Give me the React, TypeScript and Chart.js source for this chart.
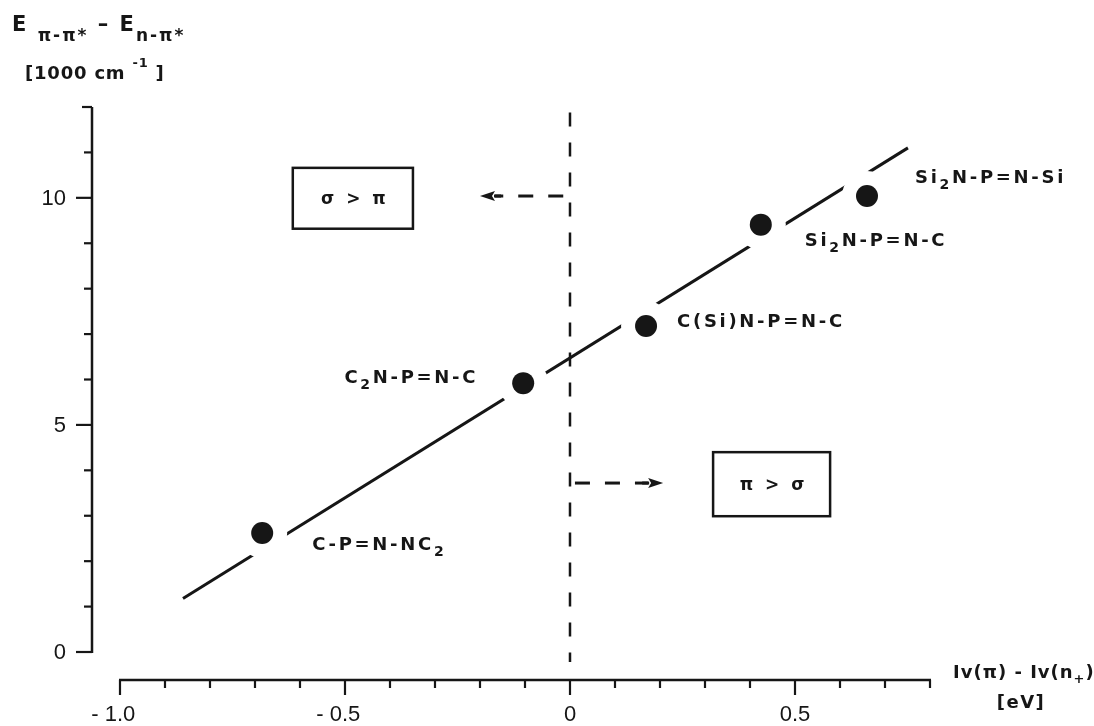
import { useEffect, useRef } from "react";
import { Chart, registerables } from "chart.js";

Chart.register(...registerables);

// ---------------- data ----------------
const compounds = ["C-P=N-NC_2", "C_2N-P=N-C", "C(Si)N-P=N-C", "Si_2N-P=N-C", "Si_2N-P=N-Si"];
const ivDifference = [-0.684, -0.104, 0.169, 0.424, 0.66];
const energyDifference = [2.62, 5.92, 7.18, 9.41, 10.04];
const fitLineX = [-0.86, 0.751];
const fitLineY = [1.18, 11.1];
const xTickValues = [-1.0, -0.5, 0, 0.5];
const xTickLabels = ["- 1.0", "- 0.5", "0", "0.5"];
const yTickValues = [0, 5, 10];
const yTickLabels = ["0", "5", "10"];
const xAxisRange = [-1.0, 0.8];
const yAxisRange = [0, 12];
const xMinorStep = 0.1;
const yMinorStep = 1;
const regionLabels = ["σ > π", "π > σ"];
const yTitleLines = ["E _{π-π*} – E_{n-π*}", "[1000 cm ^{-1} ]"];
const xTitleLines = ["Iv(π) - Iv(n_+)", "[eV]"];

// ---------------- layout (kept apart from data) ----------------
const INK = "#161616";
const LABEL_FONT = '"DejaVu Sans"';
const TICK_FONT = '"Liberation Sans"';
const labelPlacement = [
  { dx: 50, dy: 12, align: "left" },
  { dx: -45, dy: -5, align: "right" },
  { dx: 31, dy: -4, align: "left" },
  { dx: 44, dy: 17, align: "left" },
  { dx: 48, dy: -18, align: "left" },
];
// region boxes in data units: [x0, x1, yTop, yBottom]
const regionBoxes = [
  [-0.616, -0.349, 10.66, 9.32],
  [0.318, 0.578, 4.4, 2.99],
];
// dashed arrows in data units: [xStart, xTip, y]
const regionArrows = [
  [-0.015, -0.2, 10.04],
  [0.011, 0.207, 3.72],
];
const dividerX = 0;
const dividerSpan = [11.88, -0.22];

type Seg = { t: string; k: "n" | "sub" | "sup" };
function parseRich(s: string): Seg[] {
  const out: Seg[] = [];
  const re = /([_^])(\{([^}]*)\}|(.))/g;
  let last = 0;
  let m: RegExpExecArray | null;
  while ((m = re.exec(s))) {
    if (m.index > last) out.push({ t: s.slice(last, m.index), k: "n" });
    out.push({ t: (m[3] !== undefined ? m[3] : m[4]) || "", k: m[1] === "_" ? "sub" : "sup" });
    last = re.lastIndex;
  }
  if (last < s.length) out.push({ t: s.slice(last), k: "n" });
  return out;
}

type RichOpts = {
  size: number;
  weight?: string;
  family?: string;
  align?: string;
  spacing?: number;
  subScale?: number;
  subDy?: number;
  supDy?: number;
};
function drawRich(ctx: CanvasRenderingContext2D, s: string, x: number, y: number, o: RichOpts) {
  const weight = o.weight ?? "bold";
  const family = o.family ?? LABEL_FONT;
  const subScale = o.subScale ?? 0.68;
  const subDy = o.subDy ?? 0.38;
  const supDy = o.supDy ?? 0.45;
  const segs = parseRich(s);
  const fontOf = (k: string) =>
    `${weight} ${k === "n" ? o.size : Math.round(o.size * subScale)}px ${family}`;
  ctx.save();
  (ctx as any).letterSpacing = `${o.spacing ?? 0}px`;
  ctx.textBaseline = "middle";
  ctx.textAlign = "left";
  ctx.fillStyle = INK;
  const widths = segs.map((g) => {
    ctx.font = fontOf(g.k);
    return ctx.measureText(g.t).width;
  });
  const total = widths.reduce((a, b) => a + b, 0);
  let cx = o.align === "right" ? x - total : o.align === "center" ? x - total / 2 : x;
  segs.forEach((g, i) => {
    ctx.font = fontOf(g.k);
    const dy = g.k === "sub" ? o.size * subDy : g.k === "sup" ? -o.size * supDy : 0;
    ctx.fillText(g.t, cx, y + dy);
    cx += widths[i];
  });
  ctx.restore();
}

const figurePlugin = {
  id: "figureDecor",
  afterDraw(chart: any) {
    const ctx: CanvasRenderingContext2D = chart.ctx;
    const xs = chart.scales.x;
    const ys = chart.scales.y;
    const px = (v: number) => xs.getPixelForValue(v);
    const py = (v: number) => ys.getPixelForValue(v);
    ctx.save();
    ctx.strokeStyle = INK;
    ctx.fillStyle = INK;
    ctx.lineCap = "butt";

    // ---- y axis ----
    const X0 = xs.left;
    ctx.lineWidth = 2.5;
    ctx.beginPath();
    ctx.moveTo(X0, py(yAxisRange[0]) + 1);
    ctx.lineTo(X0, py(yAxisRange[1]));
    ctx.stroke();
    const nY = Math.round((yAxisRange[1] - yAxisRange[0]) / yMinorStep);
    for (let i = 0; i <= nY; i++) {
      const v = yAxisRange[0] + i * yMinorStep;
      const major = yTickValues.some((t) => Math.abs(t - v) < 1e-6);
      const len = major ? 16 : i === nY ? 10 : 8;
      ctx.lineWidth = 2.2;
      ctx.beginPath();
      ctx.moveTo(X0 - len, py(v));
      ctx.lineTo(X0, py(v));
      ctx.stroke();
    }
    ctx.font = `22px ${TICK_FONT}`;
    ctx.textAlign = "right";
    ctx.textBaseline = "middle";
    yTickValues.forEach((v, i) => ctx.fillText(yTickLabels[i], X0 - 26, py(v) + 1));

    // ---- x axis ----
    const Y0 = ys.bottom;
    ctx.lineWidth = 2.5;
    ctx.beginPath();
    ctx.moveTo(px(xAxisRange[0]) - 1, Y0);
    ctx.lineTo(px(xAxisRange[1]) + 1, Y0);
    ctx.stroke();
    const nX = Math.round((xAxisRange[1] - xAxisRange[0]) / xMinorStep);
    for (let i = 0; i <= nX; i++) {
      const v = xAxisRange[0] + i * xMinorStep;
      const major = xTickValues.some((t) => Math.abs(t - v) < 1e-6);
      const len = major ? 15 : 8;
      ctx.lineWidth = 2.2;
      ctx.beginPath();
      ctx.moveTo(px(v), Y0);
      ctx.lineTo(px(v), Y0 + len);
      ctx.stroke();
    }
    ctx.font = `22px ${TICK_FONT}`;
    ctx.textAlign = "right";
    ctx.textBaseline = "middle";
    xTickValues.forEach((v, i) => {
      const label = xTickLabels[i];
      const num = label.replace(/^-\s*/, "");
      const w = ctx.measureText(num).width;
      ctx.fillText(label, px(v) + w / 2, Y0 + 35);
    });

    // ---- dashed divider ----
    ctx.lineWidth = 2.5;
    ctx.setLineDash([14, 16]);
    ctx.beginPath();
    ctx.moveTo(px(dividerX), py(dividerSpan[0]));
    ctx.lineTo(px(dividerX), py(dividerSpan[1]));
    ctx.stroke();

    // ---- dashed arrows ----
    regionArrows.forEach(([x0, x1, yv]) => {
      const sx = px(x0);
      const tx = px(x1);
      const yy = py(yv);
      const dir = tx > sx ? 1 : -1;
      const head = 15;
      const base = tx - dir * head;
      ctx.setLineDash([15, 15]);
      ctx.lineWidth = 3;
      ctx.beginPath();
      ctx.moveTo(sx, yy);
      ctx.lineTo(base + dir * 1, yy);
      ctx.stroke();
      ctx.setLineDash([]);
      ctx.beginPath();
      ctx.moveTo(base - dir * 6, yy);
      ctx.lineTo(base, yy);
      ctx.stroke();
      ctx.beginPath();
      ctx.moveTo(tx, yy);
      ctx.lineTo(base, yy - 5);
      ctx.lineTo(base + dir * 3, yy);
      ctx.lineTo(base, yy + 5);
      ctx.closePath();
      ctx.fill();
    });
    ctx.setLineDash([]);

    // ---- region boxes ----
    regionBoxes.forEach(([x0, x1, y0, y1], i) => {
      const l = px(x0), r = px(x1), t = py(y0), b = py(y1);
      ctx.lineWidth = 2.5;
      ctx.strokeRect(l, t, r - l, b - t);
      drawRich(ctx, regionLabels[i], (l + r) / 2 + 2, (t + b) / 2 + 1, { size: 17, spacing: 3, align: "center" });
    });

    // ---- point labels ----
    compounds.forEach((name, i) => {
      const p = labelPlacement[i];
      drawRich(ctx, name, px(ivDifference[i]) + p.dx, py(energyDifference[i]) + p.dy, {
        size: 18,
        spacing: 2.7,
        align: p.align,
        subScale: 0.75,
        subDy: 0.4,
      });
    });

    // ---- axis titles ----
    drawRich(ctx, yTitleLines[0], 12, 26, { size: 21, spacing: 2, subScale: 0.82, subDy: 0.48 });
    drawRich(ctx, yTitleLines[1], 25, 74, { size: 18, spacing: 0.8, subScale: 0.7, supDy: 0.55 });
    drawRich(ctx, xTitleLines[0], 953, 673, { size: 18, spacing: 1, subScale: 0.7, subDy: 0.35 });
    drawRich(ctx, xTitleLines[1], 1021, 703, { size: 18, spacing: 1.5, align: "center" });

    ctx.restore();
  },
};

export default function App() {
  const ref = useRef<HTMLCanvasElement | null>(null);
  useEffect(() => {
    const canvas = ref.current;
    if (!canvas) return;
    const points = ivDifference.map((x, i) => ({ x, y: energyDifference[i] }));
    const fit = fitLineX.map((x, i) => ({ x, y: fitLineY[i] }));
    const chart = new Chart(canvas, {
      type: "scatter",
      data: {
        datasets: [
          {
            type: "scatter",
            label: "compounds",
            data: points,
            pointRadius: 11,
            pointHoverRadius: 11,
            pointBackgroundColor: INK,
            pointBorderWidth: 0,
            order: 0,
          } as any,
          {
            type: "scatter",
            label: "halo",
            data: points,
            pointRadius: 25,
            pointHoverRadius: 25,
            pointBackgroundColor: "#ffffff",
            pointBorderWidth: 0,
            order: 1,
          } as any,
          {
            type: "line",
            label: "fit",
            data: fit,
            borderColor: INK,
            borderWidth: 3,
            pointRadius: 0,
            fill: false,
            order: 2,
          } as any,
        ],
      },
      options: {
        animation: false,
        responsive: false,
        devicePixelRatio: 1,
        layout: { padding: { left: 92, right: 164, top: 107, bottom: 46 } },
        scales: {
          x: { type: "linear", min: -1.0622, max: 0.8, display: false },
          y: { type: "linear", min: -0.6165, max: 12, display: false },
        },
        plugins: {
          legend: { display: false },
          tooltip: { enabled: false },
        },
        events: [],
      },
      plugins: [figurePlugin],
    });
    return () => chart.destroy();
  }, []);
  return (
    <div style={{ position: "fixed", left: 0, top: 0, width: 1094, height: 726, background: "#ffffff" }}>
      <canvas ref={ref} width={1094} height={726} style={{ display: "block", width: 1094, height: 726 }} />
    </div>
  );
}
